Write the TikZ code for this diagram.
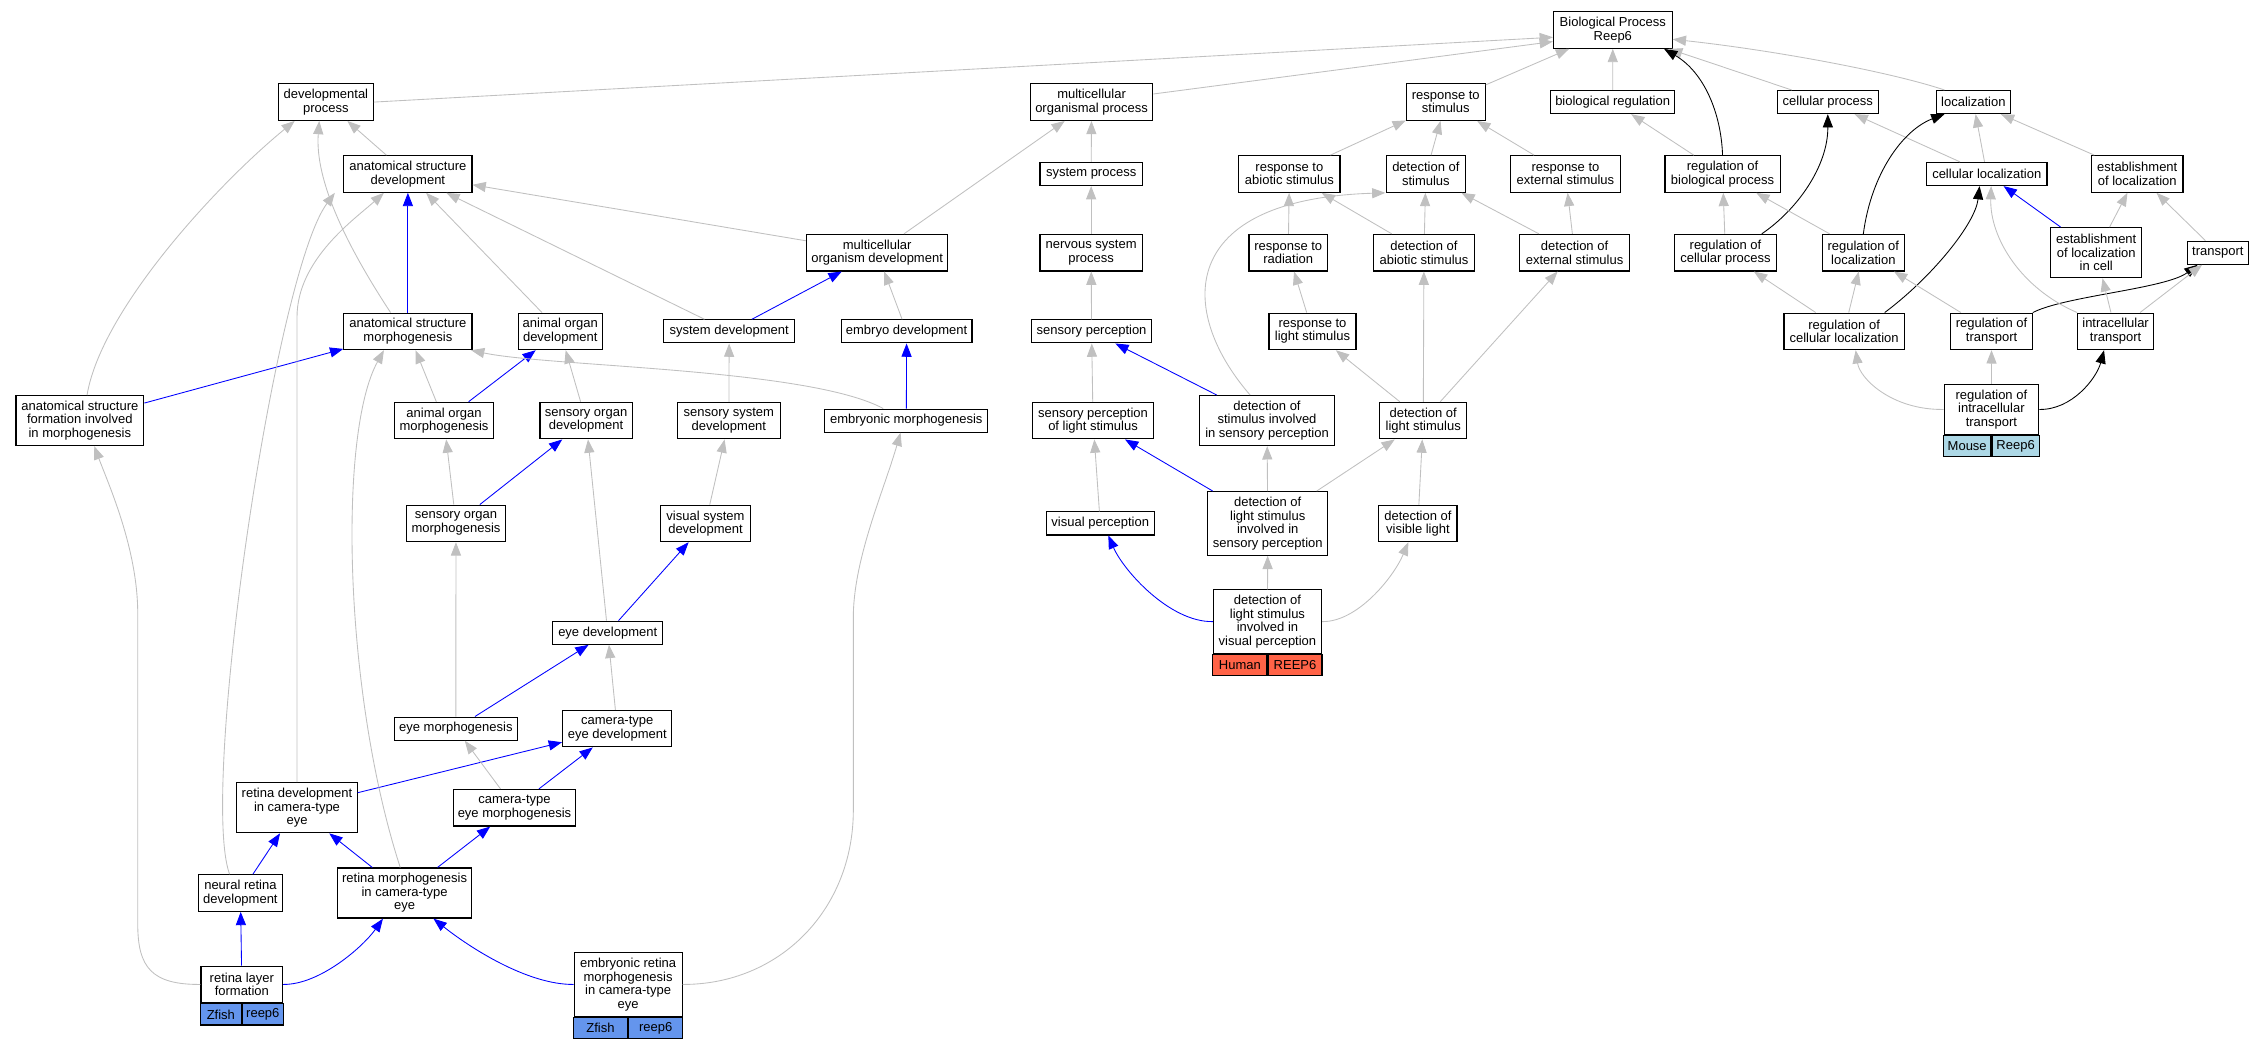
\documentclass[tikz,border=0pt]{standalone}
\usepackage{fontspec}
\setmainfont{Liberation Sans}
\usepackage{tikz}
\usetikzlibrary{arrows.meta}

\definecolor{edgegray}{RGB}{192,192,192}
\definecolor{zfishblue}{RGB}{100,149,237}
\definecolor{humanred}{RGB}{255,99,71}
\definecolor{mouseblue}{RGB}{173,216,230}
\newcommand{\termfont}{\fontsize{9}{9.35}\selectfont}

\begin{document}
\begin{tikzpicture}[
                x=1pt, y=-1pt, % pixel-like coordinates, y pointing down
                term/.style={rectangle, draw=black, line width=0.8pt, fill=white, align=center, inner sep=0pt, font=\termfont}, % Box for a GO term
                nlines/.style={minimum height={6.6pt+9.35pt*#1}}, % Box height from number of lines
                wd/.style={minimum width=#1pt}, % Box width
                cell/.style={rectangle, draw=black, line width=0.8pt, inner sep=0pt, minimum height=14.6pt, font=\termfont}, % Species cell
                zfish/.style={cell, fill=zfishblue},
                human/.style={cell, fill=humanred},
                mouse/.style={cell, fill=mouseblue},
                link/.style={draw=edgegray, line width=0.6pt, -{Triangle[length=9.2pt, width=7pt]}}, % Edge to parent term
                linkblue/.style={link, draw=blue},
                linkblack/.style={link, draw=black}
                ]
                \useasboundingbox (0,0) rectangle (1568,725.8);

                % row 0 and 1
                \node[term, nlines=2, wd=82.2] (bp) at (1117,20.8) {Biological Process\\Reep6};
                \node[term, nlines=2, wd=65.6] (devproc) at (225.7,70.7) {developmental\\process};
                \node[term, nlines=2, wd=84.9] (mop) at (756,70.7) {multicellular\\organismal process};
                \node[term, nlines=2, wd=54.5] (resstim) at (1001.3,70.7) {response to\\stimulus};
                \node[term, nlines=1, wd=85.9] (bioreg) at (1116.9,70.7) {biological regulation};
                \node[term, nlines=1, wd=70.2] (cellproc) at (1265.9,70.7) {cellular process};
                \node[term, nlines=1, wd=51.6] (loc) at (1366.7,70.7) {localization};

                % row 2
                \node[term, nlines=2, wd=88.7] (asdev) at (282.5,120.5) {anatomical structure\\development};
                \node[term, nlines=1, wd=70.9] (sysproc) at (755.7,120.5) {system process};
                \node[term, nlines=2, wd=70] (resabio) at (893,120.5) {response to\\abiotic stimulus};
                \node[term, nlines=2, wd=54.5] (detstim) at (987.5,120.5) {detection of\\stimulus};
                \node[term, nlines=2, wd=75.8] (resext) at (1084.2,120.5) {response to\\external stimulus};
                \node[term, nlines=2, wd=79.8] (regbio) at (1193,120.5) {regulation of\\biological process};
                \node[term, nlines=1, wd=83.3] (cellloc) at (1376,120.5) {cellular localization};
                \node[term, nlines=2, wd=63.4] (estloc) at (1480.2,120.5) {establishment\\of localization};

                % row 3
                \node[term, nlines=2, wd=97.9] (mod) at (607.5,175) {multicellular\\organism development};
                \node[term, nlines=2, wd=70.9] (nsp) at (755.7,175) {nervous system\\process};
                \node[term, nlines=2, wd=54.3] (resrad) at (892.2,175) {response to\\radiation};
                \node[term, nlines=2, wd=70.3] (detabio) at (986.2,175) {detection of\\abiotic stimulus};
                \node[term, nlines=2, wd=75.8] (detext) at (1090.5,175) {detection of\\external stimulus};
                \node[term, nlines=2, wd=70.5] (regcell) at (1195,175) {regulation of\\cellular process};
                \node[term, nlines=2, wd=56.7] (regloc) at (1290.5,175) {regulation of\\localization};
                \node[term, nlines=3, wd=62.8] (estloccell) at (1451.8,175) {establishment\\of localization\\in cell};
                \node[term, nlines=1, wd=42.2] (transport) at (1536,175) {transport};

                % row 4
                \node[term, nlines=2, wd=88.7] (asmorph) at (282.5,229.5) {anatomical structure\\morphogenesis};
                \node[term, nlines=2, wd=58.1] (aodev) at (388,229.5) {animal organ\\development};
                \node[term, nlines=1, wd=90.8] (sysdev) at (505,229.5) {system development};
                \node[term, nlines=1, wd=90.5] (embdev) at (627.9,229.5) {embryo development};
                \node[term, nlines=1, wd=83.5] (sensperc) at (756,229.5) {sensory perception};
                \node[term, nlines=2, wd=60.2] (reslight) at (909,229.5) {response to\\light stimulus};
                \node[term, nlines=2, wd=83.4] (regcellloc) at (1277.2,229.5) {regulation of\\cellular localization};
                \node[term, nlines=2, wd=56.4] (regtrans) at (1379.3,229.5) {regulation of\\transport};
                \node[term, nlines=2, wd=52.5] (intratrans) at (1465.2,229.5) {intracellular\\transport};

                % row 5
                \node[term, nlines=3, wd=88.5] (asform) at (55.3,291.3) {anatomical structure\\formation involved\\in morphogenesis};
                \node[term, nlines=2, wd=68.4] (aomorph) at (307.5,291.3) {animal organ\\morphogenesis};
                \node[term, nlines=2, wd=63.8] (sodev) at (405.9,291.3) {sensory organ\\development};
                \node[term, nlines=2, wd=71] (sensysdev) at (504.8,291.3) {sensory system\\development};
                \node[term, nlines=1, wd=113] (embmorph) at (627.7,291.3) {embryonic morphogenesis};
                \node[term, nlines=2, wd=83.3] (spls) at (757,291.3) {sensory perception\\of light stimulus};
                \node[term, nlines=3, wd=93.8] (dsisp) at (877.5,291.3) {detection of\\stimulus involved\\in sensory perception};
                \node[term, nlines=2, wd=60.3] (detlight) at (985.7,291.3) {detection of\\light stimulus};
                \node[term, nlines=3, wd=65.5, anchor=south] (regintra) at (1379.2,301.3) {regulation of\\intracellular\\transport};
                \node[mouse, wd=32.75, anchor=north east] (regintra-sp) at (regintra.south) {Mouse};
                \node[mouse, wd=32.75, anchor=north west] (regintra-gene) at (regintra.south) {Reep6};

                % row 6
                \node[term, nlines=2, wd=68.5] (somorph) at (315.8,362.5) {sensory organ\\morphogenesis};
                \node[term, nlines=2, wd=62.9] (visdev) at (488.6,362.5) {visual system\\development};
                \node[term, nlines=1, wd=75] (visperc) at (762,362.5) {visual perception};
                \node[term, nlines=4, wd=83.2] (dlsisp) at (878,362.5) {detection of\\light stimulus\\involved in\\sensory perception};
                \node[term, nlines=2, wd=54.2] (detvis) at (982,362.5) {detection of\\visible light};

                % row 7
                \node[term, nlines=1, wd=76] (eyedev) at (420.9,438.2) {eye development};
                \node[term, nlines=4, wd=74.8, anchor=south] (dlsivp) at (877.8,452.9) {detection of\\light stimulus\\involved in\\visual perception};
                \node[human, wd=37.4, anchor=north east] (dlsivp-sp) at (dlsivp.south) {Human};
                \node[human, wd=37.4, anchor=north west] (dlsivp-gene) at (dlsivp.south) {REEP6};

                % rows 8 to 11
                \node[term, nlines=1, wd=85.1] (eyemorph) at (315.7,504.6) {eye morphogenesis};
                \node[term, nlines=2, wd=75.7] (cteyedev) at (427.5,504.6) {camera-type\\eye development};
                \node[term, nlines=3, wd=83.3] (retdev) at (205.7,559.4) {retina development\\in camera-type\\eye};
                \node[term, nlines=2, wd=84.9] (cteyemorph) at (356.3,559.4) {camera-type\\eye morphogenesis};
                \node[term, nlines=2, wd=58.2] (nrdev) at (166.5,618.5) {neural retina\\development};
                \node[term, nlines=3, wd=92.9] (retmorph) at (280.2,618.5) {retina morphogenesis\\in camera-type\\eye};
                \node[term, nlines=2, wd=56.5, anchor=south] (rlf) at (167.5,694.85) {retina layer\\formation};
                \node[zfish, wd=28.25, anchor=north east] (rlf-sp) at (rlf.south) {Zfish};
                \node[zfish, wd=28.25, anchor=north west] (rlf-gene) at (rlf.south) {reep6};
                \node[term, nlines=4, wd=74.8, anchor=south] (erm) at (435,704.2) {embryonic retina\\morphogenesis\\in camera-type\\eye};
                \node[zfish, wd=37.4, anchor=north east] (erm-sp) at (erm.south) {Zfish};
                \node[zfish, wd=37.4, anchor=north west] (erm-gene) at (erm.south) {reep6};

                % edges into the root
                \draw[link] (devproc.east) -- ([yshift=-5pt]bp.west);
                \draw[link] (mop) -- ([yshift=-8pt]bp.west);
                \draw[link] (resstim) -- (bp);
                \draw[link] (bioreg) -- (bp);
                \draw[link] (cellproc) -- (bp);
                \draw[link] ([xshift=-20pt]loc.north) .. controls (1310,50) and (1230,35) .. ([yshift=-6.4pt]bp.east);
                \draw[linkblack] (regbio.north) .. controls (1192,78) and (1180,50) .. ([xshift=-6pt]bp.south east);

                % edges into row 1
                \draw[link] (asdev) -- (devproc);
                \draw[link] (sysproc) -- (mop);
                \draw[link] (mod) -- (mop);
                \draw[link] (resabio) -- (resstim);
                \draw[link] (detstim) -- (resstim);
                \draw[link] (resext) -- (resstim);
                \draw[link] (regbio) -- (bioreg);
                \draw[link] (cellloc) -- (loc);
                \draw[link] (cellloc) -- (cellproc);
                \draw[link] (estloc) -- (loc);

                % edges into row 2
                \draw[link] (mod) -- (asdev);
                \draw[link] (nsp) -- (sysproc);
                \draw[link] (resrad) -- (resabio);
                \draw[link] (detabio) -- (resabio);
                \draw[link] (detabio) -- (detstim);
                \draw[link] (detext) -- (detstim);
                \draw[link] (detext) -- (resext);
                \draw[link] (regcell) -- (regbio);
                \draw[linkblack] ([xshift=-10.5pt]regcell.north east) .. controls (1245,145) and (1266,115) .. (cellproc.south);
                \draw[link] (regloc) -- (regbio);
                \draw[linkblack] (regloc.north) .. controls (1296,120) and (1318,90) .. ([xshift=-20pt]loc.south);
                \draw[linkblue] (estloccell) -- (cellloc);
                \draw[link] (estloccell) -- (estloc);
                \draw[link] (transport) -- (estloc);

                % edges into row 3
                \draw[linkblue] (asmorph) -- (asdev);
                \draw[link] ([xshift=-12pt]asmorph.north) .. controls (240,170) and (218,125) .. ([xshift=-4.6pt]devproc.south);
                \draw[link] (aodev) -- (asdev);
                \draw[link] (sysdev) -- (asdev);
                \draw[linkblue] (sysdev) -- (mod);
                \draw[link] (embdev) -- (mod);
                \draw[link] (sensperc) -- (nsp);
                \draw[link] (reslight) -- (resrad);
                \draw[link] (regcellloc) -- (regloc);
                \draw[link] (regcellloc) -- (regcell);
                \draw[linkblack] ([xshift=-14pt]regcellloc.north east) .. controls (1338,192) and (1368,155) .. ([xshift=-5pt]cellloc.south);
                \draw[link] (regtrans) -- (regloc);
                \draw[linkblack] (regtrans.north east) .. controls (1430,205) and (1500,200) .. ([xshift=-14pt]transport.south);
                \draw[link] (intratrans.north west) .. controls (1400,200) and (1378,165) .. ([xshift=3pt]cellloc.south);
                \draw[link] (intratrans) -- (estloccell);
                \draw[link] (intratrans) -- (transport);

                % edges into row 4
                \draw[linkblue] (asform) -- (asmorph);
                \draw[link] ([xshift=5pt]asform.north) .. controls (70,215) and (150,128) .. ([xshift=-21.6pt]devproc.south);
                \draw[link] (aomorph) -- (asmorph);
                \draw[linkblue] (aomorph) -- (aodev);
                \draw[link] (sodev) -- (aodev);
                \draw[link] (sensysdev) -- (sysdev);
                \draw[linkblue] (embmorph) -- (embdev);
                \draw[link] ([xshift=-16pt]embmorph.north) .. controls (560,255) and (380,254) .. ([xshift=-1pt]asmorph.south east);
                \draw[link] (spls) -- (sensperc);
                \draw[linkblue] (dsisp) -- (sensperc);
                \draw[link] ([xshift=-11.7pt]dsisp.north) .. controls (815,215) and (815,138) .. ([xshift=-28pt]detstim.south);
                \draw[link] (detlight) -- (reslight);
                \draw[link] (detlight) -- (detabio);
                \draw[link] (detlight) -- (detext);
                \draw[link] (regintra.west) .. controls (1310,284) and (1288,262) .. ([xshift=8pt]regcellloc.south);
                \draw[link] (regintra) -- (regtrans);
                \draw[linkblack] (regintra.east) .. controls (1435,284) and (1452,262) .. ([xshift=-8pt]intratrans.south);

                % edges into row 5
                \draw[link] (somorph) -- (aomorph);
                \draw[linkblue] (somorph) -- (sodev);
                \draw[link] (visdev) -- (sensysdev);
                \draw[link] (visperc) -- (spls);
                \draw[linkblue] (dlsisp) -- (spls);
                \draw[link] (dlsisp) -- (dsisp);
                \draw[link] (dlsisp) -- (detlight);
                \draw[link] (detvis) -- (detlight);

                % edges into rows 6 and 7
                \draw[linkblue] (eyedev) -- (visdev);
                \draw[link] (eyedev) -- (sodev);
                \draw[linkblue] (dlsivp.west) .. controls (810,431) and (778,395) .. ([xshift=5.6pt]visperc.south);
                \draw[link] (dlsivp) -- (dlsisp);
                \draw[link] (dlsivp.east) .. controls (940,431) and (965,400) .. ([xshift=-6.6pt]detvis.south);
                \draw[link] (eyemorph) -- (somorph);
                \draw[linkblue] (eyemorph) -- (eyedev);
                \draw[link] (cteyedev) -- (eyedev);

                % edges into rows 8 to 10
                \draw[linkblue] (retdev) -- (cteyedev);
                \draw[link] (retdev.north) -- ++(0,-322) .. controls +(0,-40) and +(-20,18) .. ([xshift=-16.6pt]asdev.south);
                \draw[link] (cteyemorph) -- (eyemorph);
                \draw[linkblue] (cteyemorph) -- (cteyedev);
                \draw[linkblue] (nrdev) -- (retdev);
                \draw[link] ([xshift=-7.5pt]nrdev.north) .. controls (138,548) and (190,190) .. ([xshift=-50.6pt]asdev.south);
                \draw[linkblue] (retmorph) -- (retdev);
                \draw[linkblue] (retmorph) -- (cteyemorph);
                \draw[link] ([xshift=-3pt]retmorph.north) .. controls (238,480) and (234,300) .. ([xshift=-16.6pt]asmorph.south);
                \draw[linkblue] (rlf) -- (nrdev);
                \draw[linkblue] (rlf.east) .. controls (222,682) and (252,655) .. ([xshift=-15pt]retmorph.south);
                \draw[link] (rlf.west) .. controls (105,682) and (95.4,670) .. (95.4,640) -- (95.4,425) .. controls (95.4,380) and (75,335) .. ([xshift=10pt]asform.south);
                \draw[linkblue] (erm.west) .. controls (365,682) and (325,656) .. ([xshift=20pt]retmorph.south);
                \draw[link] (erm.east) .. controls (540,682) and (591,630) .. (591,561) -- (591,425) .. controls (592,385) and (612,340) .. ([xshift=-4pt]embmorph.south);
            \end{tikzpicture}
\end{document}
